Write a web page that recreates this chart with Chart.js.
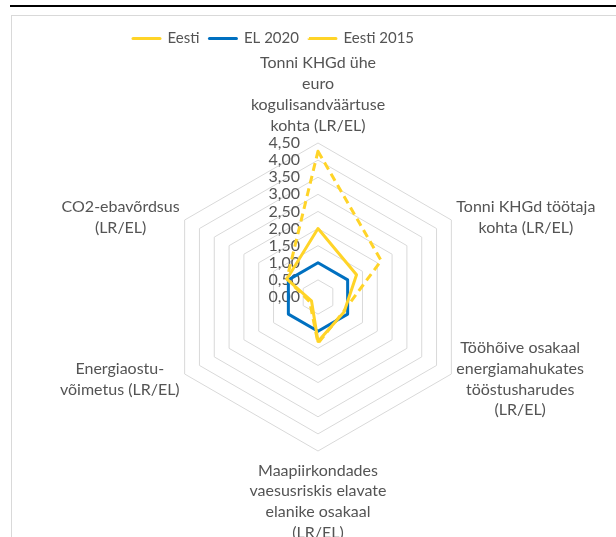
<!DOCTYPE html>
<html>
<head>
<meta charset="utf-8">
<script src="https://cdn.jsdelivr.net/npm/chart.js@4.4.1/dist/chart.umd.min.js"></script>
<style>
html, body { margin: 0; padding: 0; background: #fff; overflow: hidden; }
#wrap { position: relative; width: 616px; height: 537px; overflow: hidden; }
#rule { position: absolute; left: 10px; top: 5px; width: 606px; height: 2px; background: #000; }
#frame { position: absolute; left: 11px; top: 15px; width: 700px; height: 600px; border: 1px solid #d9d9d9; }
canvas { position: absolute; left: 0; top: 0; }
</style>
</head>
<body>
<div id="wrap">
  <div id="rule"></div>
  <div id="frame"></div>
  <canvas id="radar" width="616" height="537"></canvas>
</div>
<script>
const categories = [
    ['Tonni KHGd ühe', 'euro', 'kogulisandväärtuse', 'kohta (LR/EL)'],
    ['Tonni KHGd töötaja', 'kohta (LR/EL)'],
    ['Tööhõive osakaal', 'energiamahukates', 'tööstusharudes', '(LR/EL)'],
    ['Maapiirkondades', 'vaesusriskis elavate', 'elanike osakaal', '(LR/EL)'],
    ['Energiaostu-', 'võimetus (LR/EL)'],
    ['CO2-ebavõrdsus', '(LR/EL)']
]
const eesti = [2.00, 1.30, 0.88, 1.30, 0.22, 1.05]
const el2020 = [1, 1, 1, 1, 1, 1]
const eesti2015 = [4.26, 2.13, 0.86, 1.35, 0.28, 1.05]
const tickLabels = ['0,00', '0,50', '1,00', '1,50', '2,00', '2,50', '3,00', '3,50', '4,00', '4,50']

const YELLOW = '#FFD428'
const BLUE = '#0070C0'
const GREY_TEXT = '#545454'

// push the plot down below the legend (legend.fit gets extra height)
const legendSpacer = {
    id: 'legendSpacer',
    beforeInit(chart) {
        const origFit = chart.legend.fit
        chart.legend.fit = function () {
            origFit.bind(chart.legend)()
            this.height += 87
        }
    }
}

// excel style labels: ticks left of the axis, centred multi-line category names
const excelLabels = {
    id: 'excelLabels',
    beforeDatasetsDraw(chart) {
        const scale = chart.scales.r
        const ctx = chart.ctx
        ctx.save()
        ctx.fillStyle = GREY_TEXT
        ctx.textBaseline = 'middle'

        ctx.font = '16px Lato'
        ctx.textAlign = 'right'
        scale.ticks.forEach(t => {
            const y = scale.yCenter - scale.getDistanceFromCenterForValue(t.value)
            ctx.fillText(t.label, scale.xCenter - 18, y)
        })

        ctx.font = '16px Lato'
        ctx.textAlign = 'center'
        const lh = 20.8
        categories.forEach((lines, i) => {
            const p = scale.getPointPosition(i, scale.drawingArea)
            const dx = p.x - scale.xCenter
            const w = Math.max(...lines.map(s => ctx.measureText(s).width))
            const h = lines.length * lh
            let cx, top
            if (Math.abs(dx) < 1) {
                cx = p.x
                top = p.y < scale.yCenter ? p.y - 7 - h : p.y + 9
            } else {
                cx = dx > 0 ? p.x + 5 + w / 2 : p.x - 5 - w / 2
                top = p.y - h / 2 + (p.y > scale.yCenter ? 5 : -3)
            }
            lines.forEach((s, k) => ctx.fillText(s, cx, top + lh * (k + 0.5)))
        })
        ctx.restore()
    }
}

const lineStyle = {
    backgroundColor: 'transparent',
    borderWidth: 3,
    pointRadius: 0,
    fill: false,
    borderJoinStyle: 'round'
}

new Chart(document.getElementById('radar'), {
    type: 'radar',
    data: {
        labels: categories,
        datasets: [
            { label: 'Eesti', data: eesti, borderColor: YELLOW, ...lineStyle },
            { label: 'EL 2020', data: el2020, borderColor: BLUE, ...lineStyle },
            { label: 'Eesti 2015', data: eesti2015, borderColor: YELLOW, borderDash: [8, 5], ...lineStyle }
        ]
    },
    options: {
        responsive: false,
        animation: false,
        devicePixelRatio: 1,
        layout: { padding: { top: 21, left: 123, right: 103, bottom: 86 } },
        plugins: {
            legend: {
                position: 'top',
                align: 'start',
                labels: {
                    boxWidth: 27,
                    boxHeight: 0.001,
                    padding: 10,
                    color: GREY_TEXT,
                    font: { family: 'Lato', size: 15 }
                }
            },
            tooltip: { enabled: false }
        },
        scales: {
            r: {
                min: 0,
                max: 4.5,
                ticks: { display: false, stepSize: 0.5, callback: (v, i) => tickLabels[i] },
                grid: { circular: false, color: '#d9d9d9', lineWidth: 1 },
                angleLines: { display: false },
                pointLabels: { display: false }
            }
        }
    },
    plugins: [legendSpacer, excelLabels]
})
</script>
</body>
</html>
